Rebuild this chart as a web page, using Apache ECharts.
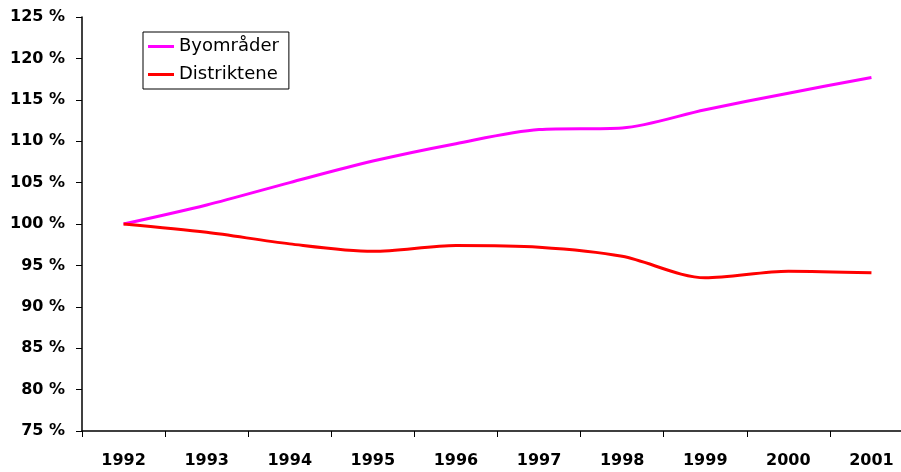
<!DOCTYPE html>
<html>
<head>
<meta charset="utf-8">
<script src="https://cdn.jsdelivr.net/npm/echarts@6/dist/echarts.min.js"></script>
<style>
html,body{margin:0;padding:0;background:#fff;overflow:hidden;}
#wrap{width:901px;height:472px;overflow:hidden;}
#chart{width:913px;height:472px;}
</style>
</head>
<body>
<div id="wrap"><div id="chart"></div></div>
<script>
var years = ['1992','1993','1994','1995','1996','1997','1998','1999','2000','2001'];
var byomrader = [100, 102.3, 105.0, 107.6, 109.7, 111.4, 111.6, 113.8, 115.8, 117.7];
var distriktene = [100, 99.0, 97.6, 96.7, 97.4, 97.2, 96.1, 93.5, 94.3, 94.1];
var seriesNames = ['Byområder', 'Distriktene'];

var chart = echarts.init(document.getElementById('chart'));
var font = '"DejaVu Sans", "Liberation Sans", Arial, sans-serif';
chart.setOption({
  animation: false,
  backgroundColor: '#ffffff',
  grid: {left: 82, right: 0, top: 17, bottom: 41, containLabel: false},
  legend: {
    orient: 'vertical',
    left: 143, top: 32,
    padding: [5, 10, 5, 5],
    itemGap: 9,
    itemWidth: 26, itemHeight: 3,
    icon: 'rect',
    borderColor: '#000', borderWidth: 1,
    backgroundColor: '#fff',
    textStyle: {fontFamily: font, fontSize: 18, color: '#000', lineHeight: 19},
    data: seriesNames
  },
  xAxis: {
    type: 'category',
    data: years,
    boundaryGap: true,
    axisLine: {lineStyle: {color: '#000', width: 1.5}},
    axisTick: {show: true, length: 6, lineStyle: {color: '#000', width: 1}},
    axisLabel: {fontFamily: font, fontWeight: 'bold', fontSize: 16, color: '#000', margin: 22},
    splitLine: {show: false}
  },
  yAxis: {
    type: 'value',
    min: 75, max: 125, interval: 5,
    axisLine: {show: true, lineStyle: {color: '#000', width: 1.5}},
    axisTick: {show: true, length: 6, lineStyle: {color: '#000', width: 1}},
    axisLabel: {fontFamily: font, fontWeight: 'bold', fontSize: 16, color: '#000', margin: 17,
      formatter: function(v){ return v + ' %'; }},
    splitLine: {show: false}
  },
  series: [
    {name: seriesNames[0], type: 'line', data: byomrader, smooth: 0.3, symbol: 'none',
     lineStyle: {color: '#ff00ff', width: 3}, itemStyle: {color: '#ff00ff'}},
    {name: seriesNames[1], type: 'line', data: distriktene, smooth: 0.3, symbol: 'none',
     lineStyle: {color: '#ff0000', width: 3}, itemStyle: {color: '#ff0000'}}
  ]
});
</script>
</body>
</html>
